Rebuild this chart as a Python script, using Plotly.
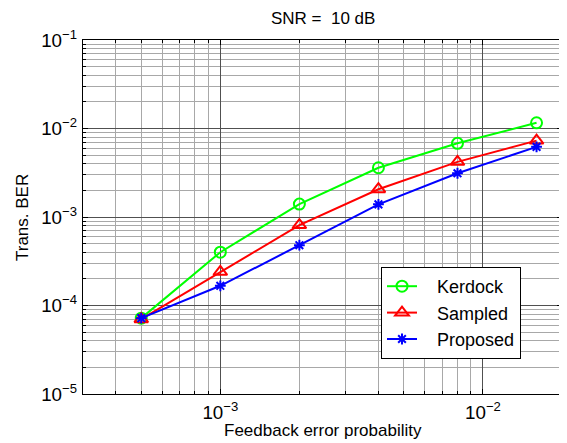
import plotly.graph_objects as go
import numpy as np

x_vals = [5e-4, 1e-3, 2e-3, 4e-3, 8e-3, 1.6e-2]
kerdock = [7.2e-5, 4.0e-4, 1.4e-3, 3.6e-3, 6.8e-3, 1.16e-2]
sampled = [7.0e-5, 2.4e-4, 8.1e-4, 2.06e-3, 4.2e-3, 7.3e-3]
proposed = [7.2e-5, 1.67e-4, 4.8e-4, 1.39e-3, 3.12e-3, 6.2e-3]
series_names = ["Kerdock", "Sampled", "Proposed"]

x_range = [3e-4, 2e-2]
y_range = [1e-5, 1e-1]

# page body has an 8px margin; compensate so the screenshot lines up
OFF = 8
W, H = 567, 443
L, T = 83 - OFF, 40 - OFF
R, B = W - (562 - OFF), H - (394 - OFF)
PW, PH = W - L - R, H - T - B


def px_x(x):
    return (x - OFF - L) / PW


def px_y(y):
    return (H - B - (y - OFF)) / PH


PAD = "\u00a0\u00a0\u00a0"

fig = go.Figure()
fig.add_trace(go.Scatter(x=x_vals, y=kerdock, name=PAD + series_names[0], mode="lines+markers",
                         line=dict(color="#00ff00", width=2),
                         marker=dict(symbol="circle-open", size=11, color="#00ff00", line=dict(width=2))))
fig.add_trace(go.Scatter(x=x_vals, y=sampled, name=PAD + series_names[1], mode="lines+markers",
                         line=dict(color="#ff0000", width=2),
                         marker=dict(symbol="triangle-up-open", size=12, color="#ff0000", line=dict(width=2))))
fig.add_trace(go.Scatter(x=x_vals, y=proposed, name=PAD + series_names[2], mode="lines+markers",
                         line=dict(color="#0000ff", width=2),
                         marker=dict(symbol="asterisk-open", size=9, color="#0000ff", line=dict(width=2, color="#0000ff"))))

axis_common = dict(type="log", dtick=1, exponentformat="power", showexponent="all", automargin=False,
                   showline=True, linecolor="black", linewidth=1, mirror="ticks",
                   ticks="inside", ticklen=5, tickcolor="black",
                   showgrid=True, gridcolor="#505050", gridwidth=1, zeroline=False,
                   tickfont=dict(family="Liberation Sans, Arial", size=15, color="black"),
                   minor=dict(dtick="D1", ticks="inside", ticklen=3, tickcolor="black", showgrid=True,
                              gridcolor="#a8a8a8", gridwidth=1))

fig.update_layout(
    width=W, height=H,
    margin=dict(l=L, r=R, t=T, b=B),
    paper_bgcolor="white", plot_bgcolor="white",
    font=dict(family="Liberation Sans, Arial", size=17, color="black"),
    xaxis=dict(axis_common, range=[np.log10(x_range[0]), np.log10(x_range[1])], ticklabelstandoff=2),
    yaxis=dict(axis_common, range=[np.log10(y_range[0]), np.log10(y_range[1])], ticklabelstandoff=2),
    legend=dict(x=px_x(381), y=px_y(267), xanchor="left", yanchor="top",
                bgcolor="white", bordercolor="black", borderwidth=1, font=dict(size=18),
                tracegroupgap=0),
    showlegend=True,
    annotations=[
        dict(text="SNR =  10 dB", xref="paper", yref="paper", x=0.5, y=px_y(18),
             xanchor="center", yanchor="middle", showarrow=False, font=dict(size=17)),
        dict(text="Feedback error probability", xref="paper", yref="paper", x=0.5, y=px_y(442),
             xanchor="center", yanchor="bottom", showarrow=False, font=dict(size=17)),
        dict(text="Trans. BER", xref="paper", yref="paper", x=px_x(22), y=0.5, textangle=-90,
             xanchor="center", yanchor="middle", showarrow=False, font=dict(size=17)),
    ],
)

fig.write_html("out.html")
